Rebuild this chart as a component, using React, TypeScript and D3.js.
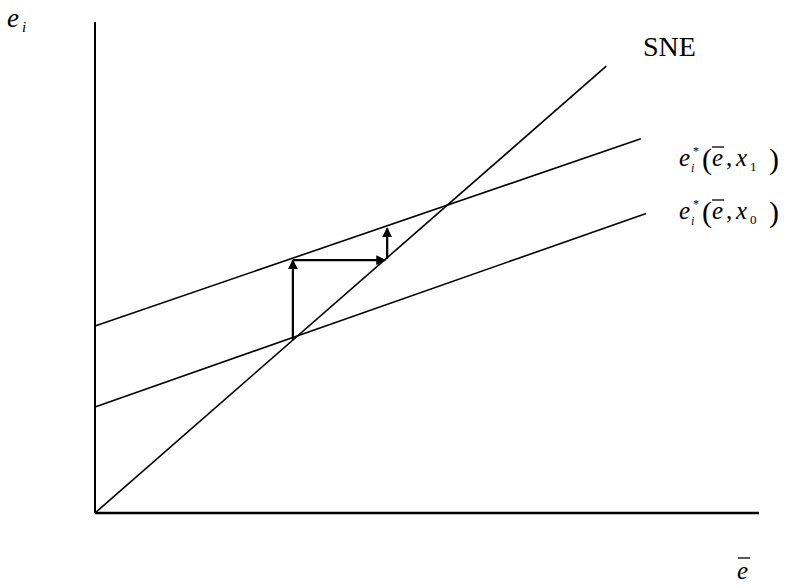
import React from "react";
import * as d3 from "d3";

// Diagram in abstract units: horizontal = average effort ē, vertical = individual effort e_i
const X_MAX = 10;
const Y_MAX = 10;

// Reaction-line end points [x, y]
const sneLine: [number, number][] = [[0, 0], [7.7, 9.1]];
const reactionX1: [number, number][] = [[0, 3.81], [8.22, 7.62]];
const reactionX0: [number, number][] = [[0, 2.16], [8.3, 6.1]];

// Adjustment path arrows: [from, to]
const adjustArrows: [[number, number], [number, number]][] = [
  [[2.98, 3.52], [2.98, 5.15]],
  [[2.98, 5.15], [4.37, 5.15]],
  [[4.4, 5.17], [4.4, 5.8]],
];

// Best-response curve labels: parameter subscript and baseline
const curveSubs = ["1", "0"];
const curveLabelBaselines = [166, 219];

const W = 791;
const H = 585;
const FONT = "'Liberation Serif', 'DejaVu Serif', serif";

function ReactionLabel({ x0, y0, sub }: { x0: number; y0: number; sub: string }) {
  return (
    <g fontFamily={FONT} fill="#000">
      <text x={x0} y={y0} fontSize={25} fontStyle="italic">e</text>
      <text x={x0 + 12} y={y0 + 6} fontSize={12} fontStyle="italic">i</text>
      <text x={x0 + 14} y={y0 - 11} fontSize={12}>*</text>
      <text x={x0 + 23} y={y0 + 3} fontSize={30}>(</text>
      <text x={x0 + 33} y={y0} fontSize={25} fontStyle="italic">e</text>
      <line x1={x0 + 33} y1={y0 - 19} x2={x0 + 45} y2={y0 - 19} stroke="#000" strokeWidth={1.3} />
      <text x={x0 + 47} y={y0} fontSize={25}>,</text>
      <text x={x0 + 57} y={y0} fontSize={25} fontStyle="italic">x</text>
      <text x={x0 + 71} y={y0 + 5} fontSize={13}>{sub}</text>
      <text x={x0 + 90} y={y0 + 3} fontSize={30}>)</text>
    </g>
  );
}

export default function App() {
  const x = d3.scaleLinear().domain([0, X_MAX]).range([95, 759]);
  const y = d3.scaleLinear().domain([0, Y_MAX]).range([513, 22]);
  const line = d3
    .line<[number, number]>()
    .x((d) => x(d[0]))
    .y((d) => y(d[1]));

  return (
    <svg
      width={W}
      height={H}
      style={{ position: "absolute", left: 0, top: 0, background: "#fff" }}
      fontFamily={FONT}
    >
      <defs>
        <marker
          id="head"
          viewBox="0 0 10 10"
          refX="9"
          refY="5"
          markerWidth="4.5"
          markerHeight="4.5"
          orient="auto"
          markerUnits="strokeWidth"
        >
          <path d="M0,0 L10,5 L0,10 Z" fill="#000" />
        </marker>
      </defs>

      {/* axes */}
      <line x1={x(0)} y1={y(0)} x2={x(0)} y2={y(Y_MAX)} stroke="#000" strokeWidth={2} />
      <line x1={x(0)} y1={y(0)} x2={x(X_MAX)} y2={y(0)} stroke="#000" strokeWidth={2.5} />

      {/* lines */}
      <path d={line(sneLine) ?? ""} stroke="#000" strokeWidth={1.6} fill="none" />
      <path d={line(reactionX1) ?? ""} stroke="#000" strokeWidth={1.6} fill="none" />
      <path d={line(reactionX0) ?? ""} stroke="#000" strokeWidth={1.6} fill="none" />

      {/* adjustment arrows */}
      {adjustArrows.map(([a, b], i) => (
        <line
          key={i}
          x1={x(a[0])}
          y1={y(a[1])}
          x2={x(b[0])}
          y2={y(b[1])}
          stroke="#000"
          strokeWidth={2.2}
          markerEnd="url(#head)"
        />
      ))}

      {/* axis labels */}
      <text x={7} y={27} fontSize={27} fontStyle="italic">e</text>
      <text x={22} y={32} fontSize={15} fontStyle="italic">i</text>
      <text x={737} y={579} fontSize={25} fontStyle="italic">e</text>
      <line x1={738} y1={558} x2={750} y2={558} stroke="#000" strokeWidth={1.3} />

      {/* curve labels */}
      <text x={643} y={56} fontSize={28}>SNE</text>
      {curveSubs.map((s, i) => (
        <ReactionLabel key={s} x0={679} y0={curveLabelBaselines[i]} sub={s} />
      ))}
    </svg>
  );
}
